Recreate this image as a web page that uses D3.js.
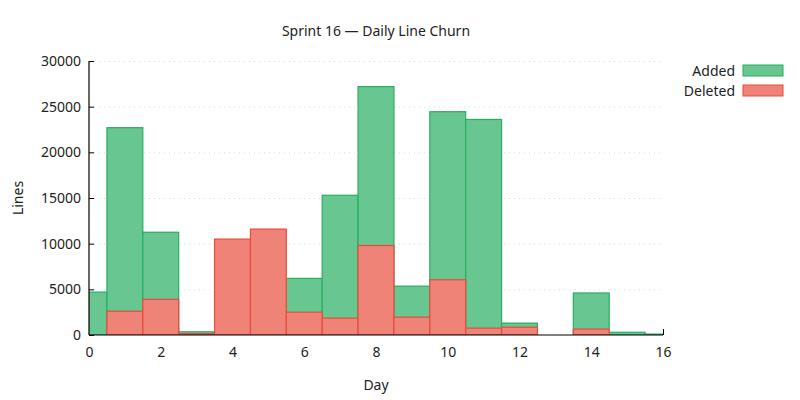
<!DOCTYPE html>
<html>
<head>
<meta charset="utf-8">
<script src="https://cdn.jsdelivr.net/npm/d3@7"></script>
<style>
body { margin: 0; background: #fff; }
text { font-family: "Noto Sans", sans-serif; fill: #222; }
</style>
</head>
<body>
<div id="chart"></div>
<script>
// data
const days = [0, 1, 2, 3, 4, 5, 6, 7, 8, 9, 10, 11, 12, 13, 14, 15, 16];
const added = [4700, 22700, 11250, 350, 0, 0, 6200, 15300, 27200, 5350, 24450, 23600, 1300, 0, 4600, 300, 100];
const deleted = [0, 2600, 3900, 150, 10500, 11600, 2500, 1850, 9800, 1950, 6050, 750, 850, 0, 650, 0, 0];
const yTicks = [0, 5000, 10000, 15000, 20000, 25000, 30000];
const xTicks = [0, 2, 4, 6, 8, 10, 12, 14, 16];
const seriesNames = ["Added", "Deleted"];

const W = 800, H = 400;
const margin = { top: 61, right: 137, bottom: 65, left: 89 };
const width = W - margin.left - margin.right,
      height = H - margin.top - margin.bottom;

const svg = d3.select("#chart").append("svg")
  .attr("width", W).attr("height", H);

const g = svg.append("g")
  .attr("transform", `translate(${margin.left},${margin.top})`);

const x = d3.scaleLinear().domain([0, 16]).range([0, width]);
const y = d3.scaleLinear().domain([0, 30000]).range([height, 0]);

const colors = {
  Added: { fill: "#68c690", stroke: "#27ae60" },
  Deleted: { fill: "#ef8377", stroke: "#e74c3c" }
};

// grid lines (dotted)
g.append("g").selectAll("line")
  .data(yTicks.slice(1))
  .enter().append("line")
  .attr("x1", 0).attr("x2", width)
  .attr("y1", d => y(d) + 0.5).attr("y2", d => y(d) + 0.5)
  .attr("stroke", "#d8d8d8")
  .attr("stroke-dasharray", "1,4");

// ticks + labels, behind the bars
const yAxis = g.append("g")
  .call(d3.axisLeft(y).tickValues(yTicks).tickSize(-5).tickPadding(8).tickFormat(d3.format("d")));
const xAxis = g.append("g")
  .attr("transform", `translate(0,${height})`)
  .call(d3.axisBottom(x).tickValues(xTicks).tickSize(-6).tickPadding(12).tickFormat(d3.format("d")));
[yAxis, xAxis].forEach(a => {
  a.select(".domain").remove();
  a.selectAll("line").attr("stroke", "#000");
  a.selectAll("text").attr("font-size", 14).attr("font-family", "Noto Sans").attr("fill", "#222");
});

// clip bars to plot area
g.append("clipPath").attr("id", "plotClip")
  .append("rect").attr("x", 0).attr("y", -5).attr("width", width).attr("height", height + 5);

const bars = g.append("g").attr("clip-path", "url(#plotClip)");

function drawSeries(vals, name) {
  bars.append("g").selectAll("rect")
    .data(days.map((d, i) => ({ day: d, v: vals[i] })).filter(d => d.v > 0))
    .enter().append("rect")
    .attr("x", d => x(d.day - 0.5))
    .attr("width", d => x(d.day + 0.5) - x(d.day - 0.5))
    .attr("y", d => y(d.v))
    .attr("height", d => y(0) - y(d.v))
    .attr("fill", colors[name].fill)
    .attr("stroke", colors[name].stroke)
    .attr("stroke-width", 1.2);
}
drawSeries(added, "Added");
drawSeries(deleted, "Deleted");

// border lines on top
g.append("line").attr("x1", 0).attr("x2", 0).attr("y1", 0).attr("y2", height)
  .attr("stroke", "#000").attr("stroke-width", 1.2);
g.append("line").attr("x1", 0).attr("x2", width).attr("y1", height).attr("y2", height)
  .attr("stroke", "#000").attr("stroke-width", 1.2);

// title and axis labels
svg.append("text")
  .attr("x", margin.left + width / 2).attr("y", 36)
  .attr("text-anchor", "middle").attr("font-size", 14)
  .text("Sprint 16 \u2014 Daily Line Churn");
svg.append("text")
  .attr("x", margin.left + width / 2).attr("y", 390)
  .attr("text-anchor", "middle").attr("font-size", 14)
  .text("Day");
svg.append("text")
  .attr("transform", `translate(23,${margin.top + height / 2}) rotate(-90)`)
  .attr("text-anchor", "middle").attr("font-size", 14)
  .text("Lines");

// legend
const legend = svg.append("g").attr("transform", "translate(743,65)");
seriesNames.forEach((name, i) => {
  const row = legend.append("g").attr("transform", `translate(0,${i * 20})`);
  row.append("rect")
    .attr("x", 0).attr("y", 0).attr("width", 40).attr("height", 11)
    .attr("fill", colors[name].fill).attr("stroke", colors[name].stroke);
  row.append("text")
    .attr("x", -8).attr("y", 6).attr("dy", "0.35em")
    .attr("text-anchor", "end").attr("font-size", 14)
    .text(name);
});
</script>
</body>
</html>
